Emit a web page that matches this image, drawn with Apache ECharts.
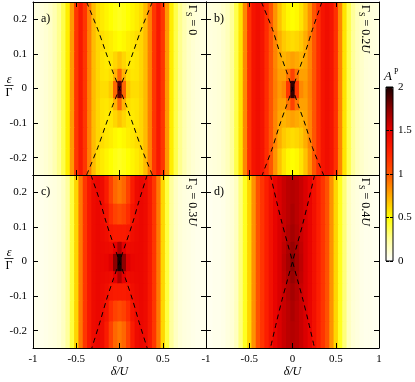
<!DOCTYPE html>
<html>
<head>
<meta charset="utf-8">
<script src="https://cdn.jsdelivr.net/npm/echarts@6/dist/echarts.min.js"></script>
<style>
	html, body { margin: 0; padding: 0; background: #fff; }
	#chart { width: 415px; height: 382px; }
</style>
</head>
<body>
<div id="chart"></div>
<script>
// delta/U column centres and epsilon/Gamma row edges of the maps
var delta = [-1,-0.95,-0.9,-0.85,-0.8,-0.75,-0.7,-0.65,-0.6,-0.55,-0.5,-0.45,-0.4,-0.35,-0.3,-0.25,-0.2,-0.15,-0.1,-0.05,0,0.05,0.1,0.15,0.2,0.25,0.3,0.35,0.4,0.45,0.5,0.55,0.6,0.65,0.7,0.75,0.8,0.85,0.9,0.95,1];
var rowEdges = [-0.25,-0.17,-0.11,-0.06,-0.025,0.025,0.06,0.11,0.17,0.25];

// A^P, row 4 = outer rows (|eps| large), row 0 = eps ~ 0
var a4 = [0.07,0.08,0.09,0.11,0.14,0.19,0.27,0.38,0.55,0.8,1.15,1.32,1.15,0.88,0.7,0.6,0.56,0.53,0.5,0.47,0.45,0.47,0.5,0.53,0.56,0.6,0.7,0.88,1.15,1.32,1.15,0.8,0.55,0.38,0.27,0.19,0.14,0.11,0.09,0.08,0.07];
var a3 = [0.07,0.08,0.09,0.11,0.14,0.19,0.27,0.38,0.55,0.8,1.15,1.32,1.15,0.88,0.7,0.62,0.6,0.57,0.55,0.52,0.5,0.52,0.55,0.57,0.6,0.62,0.7,0.88,1.15,1.32,1.15,0.8,0.55,0.38,0.27,0.19,0.14,0.11,0.09,0.08,0.07];
var a2 = [0.07,0.08,0.09,0.11,0.14,0.19,0.27,0.38,0.55,0.8,1.15,1.32,1.15,0.88,0.7,0.62,0.58,0.56,0.57,0.62,0.68,0.62,0.57,0.56,0.58,0.62,0.7,0.88,1.15,1.32,1.15,0.8,0.55,0.38,0.27,0.19,0.14,0.11,0.09,0.08,0.07];
var a1 = [0.07,0.08,0.09,0.11,0.14,0.19,0.27,0.38,0.55,0.8,1.15,1.32,1.15,0.88,0.7,0.62,0.58,0.57,0.6,0.72,0.95,0.72,0.6,0.57,0.58,0.62,0.7,0.88,1.15,1.32,1.15,0.8,0.55,0.38,0.27,0.19,0.14,0.11,0.09,0.08,0.07];
var a0 = [0.07,0.08,0.09,0.11,0.14,0.19,0.27,0.38,0.55,0.8,1.15,1.32,1.15,0.88,0.7,0.63,0.6,0.6,0.66,0.95,1.85,0.95,0.66,0.6,0.6,0.63,0.7,0.88,1.15,1.32,1.15,0.8,0.55,0.38,0.27,0.19,0.14,0.11,0.09,0.08,0.07];

var b4 = [0.07,0.08,0.09,0.1,0.13,0.17,0.25,0.38,0.58,0.85,1.18,1.35,1.4,1.35,1.2,1.0,0.82,0.68,0.58,0.52,0.5,0.52,0.58,0.68,0.82,1.0,1.2,1.35,1.4,1.35,1.18,0.85,0.58,0.38,0.25,0.17,0.13,0.1,0.09,0.08,0.07];
var b3 = [0.07,0.08,0.09,0.1,0.13,0.17,0.25,0.38,0.58,0.85,1.18,1.35,1.4,1.35,1.2,1.0,0.86,0.74,0.66,0.62,0.6,0.62,0.66,0.74,0.86,1.0,1.2,1.35,1.4,1.35,1.18,0.85,0.58,0.38,0.25,0.17,0.13,0.1,0.09,0.08,0.07];
var b2 = [0.07,0.08,0.09,0.1,0.13,0.17,0.25,0.38,0.58,0.85,1.18,1.35,1.4,1.35,1.2,1.0,0.86,0.76,0.72,0.75,0.78,0.75,0.72,0.76,0.86,1.0,1.2,1.35,1.4,1.35,1.18,0.85,0.58,0.38,0.25,0.17,0.13,0.1,0.09,0.08,0.07];
var b1 = [0.07,0.08,0.09,0.1,0.13,0.17,0.25,0.38,0.58,0.85,1.18,1.35,1.4,1.35,1.2,1.0,0.87,0.78,0.78,0.9,1.1,0.9,0.78,0.78,0.87,1.0,1.2,1.35,1.4,1.35,1.18,0.85,0.58,0.38,0.25,0.17,0.13,0.1,0.09,0.08,0.07];
var b0 = [0.07,0.08,0.09,0.1,0.13,0.17,0.25,0.38,0.58,0.85,1.18,1.35,1.4,1.35,1.2,1.0,0.88,0.8,0.85,1.15,1.95,1.15,0.85,0.8,0.88,1.0,1.2,1.35,1.4,1.35,1.18,0.85,0.58,0.38,0.25,0.17,0.13,0.1,0.09,0.08,0.07];

var c4 = [0.05,0.05,0.05,0.06,0.07,0.08,0.1,0.15,0.24,0.4,0.62,0.9,1.15,1.32,1.42,1.45,1.42,1.3,1.1,0.95,0.9,0.95,1.1,1.3,1.42,1.45,1.42,1.32,1.15,0.9,0.62,0.4,0.24,0.15,0.1,0.08,0.07,0.06,0.05,0.05,0.05];
var c3 = [0.05,0.05,0.05,0.06,0.07,0.08,0.1,0.15,0.24,0.4,0.62,0.9,1.15,1.32,1.42,1.45,1.42,1.35,1.2,1.1,1.05,1.1,1.2,1.35,1.42,1.45,1.42,1.32,1.15,0.9,0.62,0.4,0.24,0.15,0.1,0.08,0.07,0.06,0.05,0.05,0.05];
var c2 = [0.05,0.05,0.05,0.06,0.07,0.08,0.1,0.15,0.24,0.4,0.62,0.9,1.15,1.32,1.42,1.45,1.43,1.4,1.32,1.3,1.3,1.3,1.32,1.4,1.43,1.45,1.42,1.32,1.15,0.9,0.62,0.4,0.24,0.15,0.1,0.08,0.07,0.06,0.05,0.05,0.05];
var c1 = [0.05,0.05,0.05,0.06,0.07,0.08,0.1,0.15,0.24,0.4,0.62,0.9,1.15,1.32,1.42,1.45,1.44,1.43,1.42,1.5,1.65,1.5,1.42,1.43,1.44,1.45,1.42,1.32,1.15,0.9,0.62,0.4,0.24,0.15,0.1,0.08,0.07,0.06,0.05,0.05,0.05];
var c0 = [0.05,0.05,0.05,0.06,0.07,0.08,0.1,0.15,0.24,0.4,0.62,0.9,1.15,1.32,1.42,1.45,1.45,1.46,1.52,1.75,2.0,1.75,1.52,1.46,1.45,1.45,1.42,1.32,1.15,0.9,0.62,0.4,0.24,0.15,0.1,0.08,0.07,0.06,0.05,0.05,0.05];

var d4 = [0.04,0.04,0.05,0.05,0.06,0.08,0.1,0.16,0.3,0.45,0.62,0.82,1.02,1.16,1.28,1.38,1.47,1.53,1.58,1.62,1.64,1.62,1.58,1.53,1.47,1.38,1.28,1.16,1.02,0.82,0.62,0.45,0.3,0.16,0.1,0.08,0.06,0.05,0.05,0.04,0.04];
var d3 = [0.04,0.04,0.05,0.05,0.06,0.08,0.1,0.16,0.3,0.45,0.62,0.82,1.02,1.16,1.28,1.38,1.47,1.53,1.58,1.62,1.66,1.62,1.58,1.53,1.47,1.38,1.28,1.16,1.02,0.82,0.62,0.45,0.3,0.16,0.1,0.08,0.06,0.05,0.05,0.04,0.04];
var d2 = [0.04,0.04,0.05,0.05,0.06,0.08,0.1,0.16,0.3,0.45,0.62,0.82,1.02,1.16,1.28,1.38,1.47,1.53,1.58,1.64,1.68,1.64,1.58,1.53,1.47,1.38,1.28,1.16,1.02,0.82,0.62,0.45,0.3,0.16,0.1,0.08,0.06,0.05,0.05,0.04,0.04];
var d1 = [0.04,0.04,0.05,0.05,0.06,0.08,0.1,0.16,0.3,0.45,0.62,0.82,1.02,1.16,1.28,1.38,1.47,1.53,1.6,1.66,1.72,1.66,1.6,1.53,1.47,1.38,1.28,1.16,1.02,0.82,0.62,0.45,0.3,0.16,0.1,0.08,0.06,0.05,0.05,0.04,0.04];
var d0 = [0.04,0.04,0.05,0.05,0.06,0.08,0.1,0.16,0.3,0.45,0.62,0.82,1.02,1.16,1.28,1.38,1.47,1.53,1.61,1.68,1.76,1.68,1.61,1.53,1.47,1.38,1.28,1.16,1.02,0.82,0.62,0.45,0.3,0.16,0.1,0.08,0.06,0.05,0.05,0.04,0.04];

// rows from bottom (eps=-0.25) to top (eps=0.25)
var panelRows = [
	[a4, a3, a2, a1, a0, a1, a2, a3, a4],
	[b4, b3, b2, b1, b0, b1, b2, b3, b4],
	[c4, c3, c2, c1, c0, c1, c2, c3, c4],
	[d4, d3, d2, d1, d0, d1, d2, d3, d4]
];
var panelTags = ['a)', 'b)', 'c)', 'd)'];
var gammaS = ['0', '0.2', '0.3', '0.4'];

// dashed curves: delta/U at given eps/Gamma
var curveEps = [0.25, 0.17, 0.11, 0.05, 0, -0.05, -0.11, -0.17, -0.25];
var curveL = [
	[-0.38, -0.25, -0.165, -0.08, 0, 0.08, 0.165, 0.25, 0.38],
	[-0.36, -0.23, -0.155, -0.07, 0, 0.07, 0.155, 0.23, 0.36],
	[-0.33, -0.22, -0.15, -0.07, 0, 0.07, 0.15, 0.22, 0.32],
	[-0.255, -0.18, -0.12, -0.055, 0, 0.055, 0.12, 0.18, 0.255]
];
var curveR = [
	[0.38, 0.25, 0.165, 0.08, 0, -0.08, -0.165, -0.25, -0.38],
	[0.34, 0.23, 0.155, 0.07, 0, -0.07, -0.155, -0.23, -0.35],
	[0.32, 0.22, 0.15, 0.07, 0, -0.07, -0.15, -0.22, -0.32],
	[0.255, 0.18, 0.12, 0.055, 0, -0.055, -0.12, -0.18, -0.255]
];

var cmap = ['#ffffff', '#ffff99', '#ffff00', '#ffaa00', '#ff5500', '#ff2200', '#e60000', '#8c0000', '#1a0000'];

var SERIF = "'Liberation Serif', 'DejaVu Serif', serif";
var HALF = (delta[1] - delta[0]) / 2;

var boxes = [
	{left: 33, top: 2},
	{left: 206, top: 2},
	{left: 33, top: 175},
	{left: 206, top: 175}
];
var PW = 173, PH = 173;

var cellData = function(rows) {
	var out = [];
	for (var r = 0; r < rows.length; r++) {
		for (var i = 0; i < delta.length; i++) {
			out.push([delta[i], rowEdges[r], rowEdges[r + 1], rows[r][i]]);
		}
	}
	return out;
};

var renderCell = function(params, api) {
	var p0 = api.coord([api.value(0) - HALF, api.value(2)]);
	var p1 = api.coord([api.value(0) + HALF, api.value(1)]);
	return {
		type: 'rect',
		shape: {x: p0[0], y: p0[1], width: p1[0] - p0[0] + 1, height: p1[1] - p0[1] + 1},
		style: {fill: api.visual('color')}
	};
};

var lineAxis = {show: true, onZero: false, lineStyle: {color: '#000', width: 1}};
var tick = {show: true, inside: true, length: 5, lineStyle: {color: '#000', width: 1}};

var grids = [], xAxes = [], yAxes = [], series = [], graphics = [];

for (var p = 0; p < 4; p++) {
	var bx = boxes[p];
	grids.push({left: bx.left, top: bx.top, width: PW, height: PH});
	var bottomRow = p >= 2, leftCol = p % 2 == 0;
	[['bottom', bottomRow], ['top', false]].forEach(function(s) {
		xAxes.push({
			type: 'value', gridIndex: p, position: s[0], min: -1, max: 1, interval: 0.5, z: 10,
			axisLine: lineAxis, axisTick: tick, splitLine: {show: false},
			axisLabel: {show: s[1], showMaxLabel: p != 2, margin: 6, color: '#000', fontFamily: SERIF, fontSize: 11},
			name: s[1] ? 'δ/U' : '', nameLocation: 'middle', nameGap: 17,
			nameTextStyle: {color: '#000', fontFamily: SERIF, fontSize: 12, fontStyle: 'italic'}
		});
	});
	[['left', leftCol], ['right', false]].forEach(function(s) {
		yAxes.push({
			type: 'value', gridIndex: p, position: s[0], min: -0.25, max: 0.25, splitNumber: 5, z: 10,
			axisLine: lineAxis, axisTick: tick, splitLine: {show: false},
			axisLabel: {show: s[1], showMinLabel: false, showMaxLabel: false, margin: 6,
				color: '#000', fontFamily: SERIF, fontSize: 11}
		});
	});

	series.push({
		type: 'custom', xAxisIndex: 2 * p, yAxisIndex: 2 * p,
		renderItem: renderCell, data: cellData(panelRows[p]),
		encode: {x: 0, y: [1, 2]}, clip: true, silent: true, z: 1
	});
	[curveL[p], curveR[p]].forEach(function(c) {
		series.push({
			type: 'line', xAxisIndex: 2 * p, yAxisIndex: 2 * p,
			data: c.map(function(d, i) { return [d, curveEps[i]]; }),
			showSymbol: false, smooth: 0.3, silent: true, z: 3, clip: true,
			lineStyle: {color: '#000', width: 1, type: [5, 4]}
		});
	});

	graphics.push({
		type: 'text', x: bx.left + 8, y: bx.top + 17, z: 20, silent: true,
		style: {text: panelTags[p], fill: '#000', font: '12px ' + SERIF, textVerticalAlign: 'middle'}
	});
	graphics.push({
		type: 'text', x: bx.left + PW - 14, y: bx.top + 3, rotation: -Math.PI / 2, z: 20, silent: true,
		style: {
			text: '{g|Γ}{s|S}{g| = ' + gammaS[p] + '}' + (gammaS[p] == '0' ? '' : '{i|U}'),
			textAlign: 'left', textVerticalAlign: 'middle',
			rich: {
				g: {fontFamily: SERIF, fontSize: 12, lineHeight: 16, verticalAlign: 'middle', fill: '#000'},
				s: {fontFamily: SERIF, fontSize: 8, lineHeight: 16, verticalAlign: 'bottom', fill: '#000'},
				i: {fontFamily: SERIF, fontSize: 12, lineHeight: 16, fontStyle: 'italic', verticalAlign: 'middle', fill: '#000'}
			}
		}
	});
	if (leftCol) {
		var y0 = bx.top + PH / 2;
		graphics.push({type: 'text', x: 9, y: y0 - 9, z: 20, silent: true,
			style: {text: 'ε', font: 'italic 12px ' + SERIF, fill: '#000', textAlign: 'center', textVerticalAlign: 'middle'}});
		graphics.push({type: 'line', z: 20, silent: true, shape: {x1: 4.5, y1: y0 - 3, x2: 13.5, y2: y0 - 3},
			style: {stroke: '#000', lineWidth: 0.8}});
		graphics.push({type: 'text', x: 9, y: y0 + 4, z: 20, silent: true,
			style: {text: 'Γ', font: '12px ' + SERIF, fill: '#000', textAlign: 'center', textVerticalAlign: 'middle'}});
	}
}

// colour bar frame and its ticks
grids.push({left: 386, top: 87, width: 7, height: 174, show: true, borderColor: '#000', borderWidth: 1, backgroundColor: 'transparent', z: 5});
xAxes.push({type: 'value', gridIndex: 4, show: false, min: 0, max: 1});
yAxes.push({type: 'value', gridIndex: 4, position: 'left', min: 0, max: 2, interval: 0.5, z: 10,
	axisLine: {show: false}, axisTick: {show: true, inside: true, length: 3, lineStyle: {color: '#000'}},
	axisLabel: {show: false}, splitLine: {show: false}});
yAxes.push({type: 'value', gridIndex: 4, position: 'right', min: 0, max: 2, interval: 0.5, z: 10,
	axisLine: {show: false}, axisTick: {show: true, inside: true, length: 3, lineStyle: {color: '#000'}},
	axisLabel: {show: true, margin: 5, color: '#000', fontFamily: SERIF, fontSize: 11}, splitLine: {show: false}});

graphics.push({type: 'text', x: 384, y: 77, z: 20, silent: true,
	style: {text: 'A', font: 'italic 13px ' + SERIF, fill: '#000', textVerticalAlign: 'middle'}});
graphics.push({type: 'text', x: 394, y: 72, z: 20, silent: true,
	style: {text: 'P', font: '8px ' + SERIF, fill: '#000', textVerticalAlign: 'middle'}});

var chart = echarts.init(document.getElementById('chart'));
chart.setOption({
	animation: false,
	backgroundColor: '#fff',
	grid: grids,
	xAxis: xAxes,
	yAxis: yAxes,
	visualMap: {
		type: 'continuous', min: 0, max: 2, dimension: 3, seriesIndex: [0, 3, 6, 9],
		inRange: {color: cmap}, orient: 'vertical', left: 386, top: 87,
		itemWidth: 7, itemHeight: 174, padding: 0, calculable: false, hoverLink: false,
		text: null, textGap: 0, show: true, z: 4
	},
	series: series,
	graphic: graphics
});
</script>
</body>
</html>
